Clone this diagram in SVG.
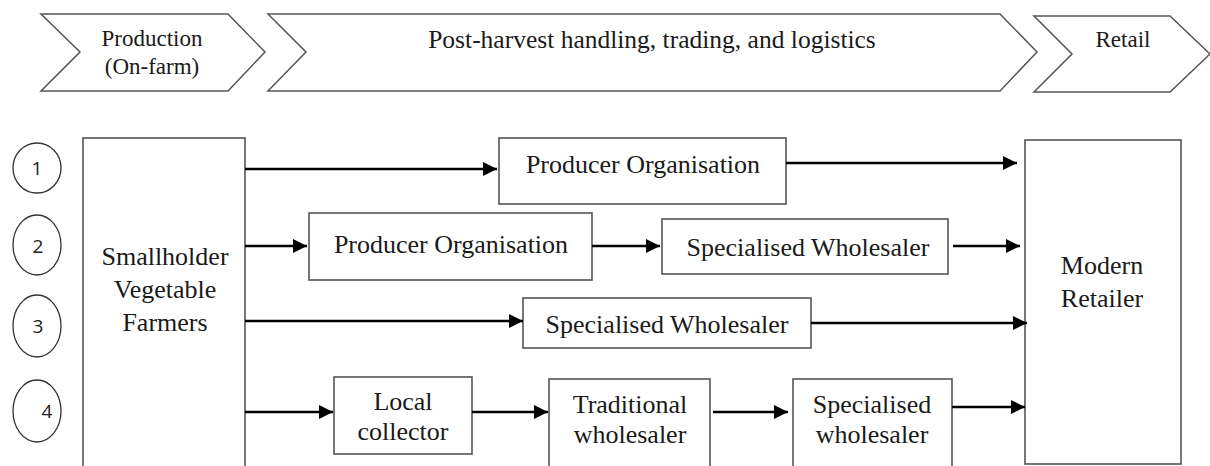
<svg xmlns="http://www.w3.org/2000/svg" width="1210" height="466" viewBox="0 0 1210 466">
<defs>
<style>
.chev{fill:#fff;stroke:#555;stroke-width:1.5}
.box{fill:#fff;stroke:#555;stroke-width:1.6}
.circ{fill:#fff;stroke:#333;stroke-width:1.3}
.t{font-family:"Liberation Serif","Times New Roman",serif;font-size:26px;fill:#1a1a1a;text-anchor:middle}
.h{font-family:"Liberation Serif","Times New Roman",serif;font-size:23px;fill:#1a1a1a;text-anchor:middle}
.n{font-family:"Open Sans","Liberation Sans",Arial,sans-serif;font-size:19px;fill:#222;text-anchor:middle}
.c{stroke:#000;stroke-width:2.6;fill:none}
</style>
<marker id="ah" markerUnits="userSpaceOnUse" markerWidth="15" markerHeight="15" refX="14" refY="7" orient="auto">
<path d="M0,0 L14,7 L0,14 z" fill="#000"/>
</marker>
</defs>
<rect width="1210" height="466" fill="#fff"/>

<g id="stage-production">
<polygon class="chev" points="41,14 228,14 265,52 228,91 41,91 80,52"/>
<text class="h" x="152" y="46">Production</text>
<text class="h" x="152" y="74">(On-farm)</text>
</g>
<g id="stage-postharvest">
<polygon class="chev" points="268,14 1000,14 1037,52 1000,91 268,91 306,52"/>
<text class="h" x="652" y="48" style="font-size:25.5px">Post-harvest handling, trading, and logistics</text>
</g>
<g id="stage-retail">
<polygon class="chev" points="1034,16 1170,16 1210,54 1170,92 1034,92 1072,54"/>
<text class="h" x="1123" y="47">Retail</text>
</g>

<g id="label-1"><ellipse class="circ" cx="37" cy="168" rx="24" ry="25"/><text class="n" x="37" y="175">1</text></g>
<g id="label-2"><ellipse class="circ" cx="37" cy="245" rx="24" ry="30"/><text class="n" x="38" y="253">2</text></g>
<g id="label-3"><ellipse class="circ" cx="37" cy="326" rx="24" ry="31"/><text class="n" x="38" y="333">3</text></g>
<g id="label-4"><ellipse class="circ" cx="37" cy="411" rx="24" ry="31"/><text class="n" x="47" y="418">4</text></g>

<g id="smallholder">
<rect class="box" x="83" y="138" width="162" height="340"/>
<text class="t" x="165" y="265">Smallholder</text>
<text class="t" x="165" y="298">Vegetable</text>
<text class="t" x="165" y="331">Farmers</text>
</g>

<g id="modern-retailer">
<rect class="box" x="1025" y="140" width="156" height="324"/>
<text class="t" x="1102" y="274">Modern</text>
<text class="t" x="1102" y="307">Retailer</text>
</g>

<g id="po-1">
<rect class="box" x="499" y="138" width="287" height="66"/>
<text class="t" x="643" y="173">Producer Organisation</text>
</g>
<g id="po-2">
<rect class="box" x="309" y="213" width="283" height="67"/>
<text class="t" x="451" y="253">Producer Organisation</text>
</g>
<g id="sw-2">
<rect class="box" x="662" y="219" width="286" height="55"/>
<text class="t" x="808" y="256">Specialised Wholesaler</text>
</g>
<g id="sw-3">
<rect class="box" x="523" y="298" width="288" height="50"/>
<text class="t" x="667" y="333">Specialised Wholesaler</text>
</g>
<g id="local-collector">
<rect class="box" x="334" y="377" width="138" height="77"/>
<text class="t" x="403" y="410">Local</text>
<text class="t" x="403" y="440">collector</text>
</g>
<g id="traditional-wholesaler">
<rect class="box" x="549" y="379" width="161" height="100"/>
<text class="t" x="630" y="413">Traditional</text>
<text class="t" x="630" y="443">wholesaler</text>
</g>
<g id="specialised-wholesaler-4">
<rect class="box" x="793" y="379" width="159" height="100"/>
<text class="t" x="872" y="413">Specialised</text>
<text class="t" x="872" y="443">wholesaler</text>
</g>

<g id="connectors">
<line class="c" x1="245" y1="169" x2="497" y2="169" marker-end="url(#ah)"/>
<line class="c" x1="786" y1="163" x2="1017" y2="163" marker-end="url(#ah)"/>
<line class="c" x1="245" y1="246" x2="307" y2="246" marker-end="url(#ah)"/>
<line class="c" x1="592" y1="246" x2="660" y2="246" marker-end="url(#ah)"/>
<line class="c" x1="953" y1="246" x2="1020" y2="246" marker-end="url(#ah)"/>
<line class="c" x1="245" y1="321" x2="523" y2="321" marker-end="url(#ah)"/>
<line class="c" x1="811" y1="323" x2="1027" y2="323" marker-end="url(#ah)"/>
<line class="c" x1="245" y1="412" x2="333" y2="412" marker-end="url(#ah)"/>
<line class="c" x1="472" y1="412" x2="548" y2="412" marker-end="url(#ah)"/>
<line class="c" x1="713" y1="412" x2="788" y2="412" marker-end="url(#ah)"/>
<line class="c" x1="952" y1="407" x2="1025" y2="407" marker-end="url(#ah)"/>
</g>
</svg>
